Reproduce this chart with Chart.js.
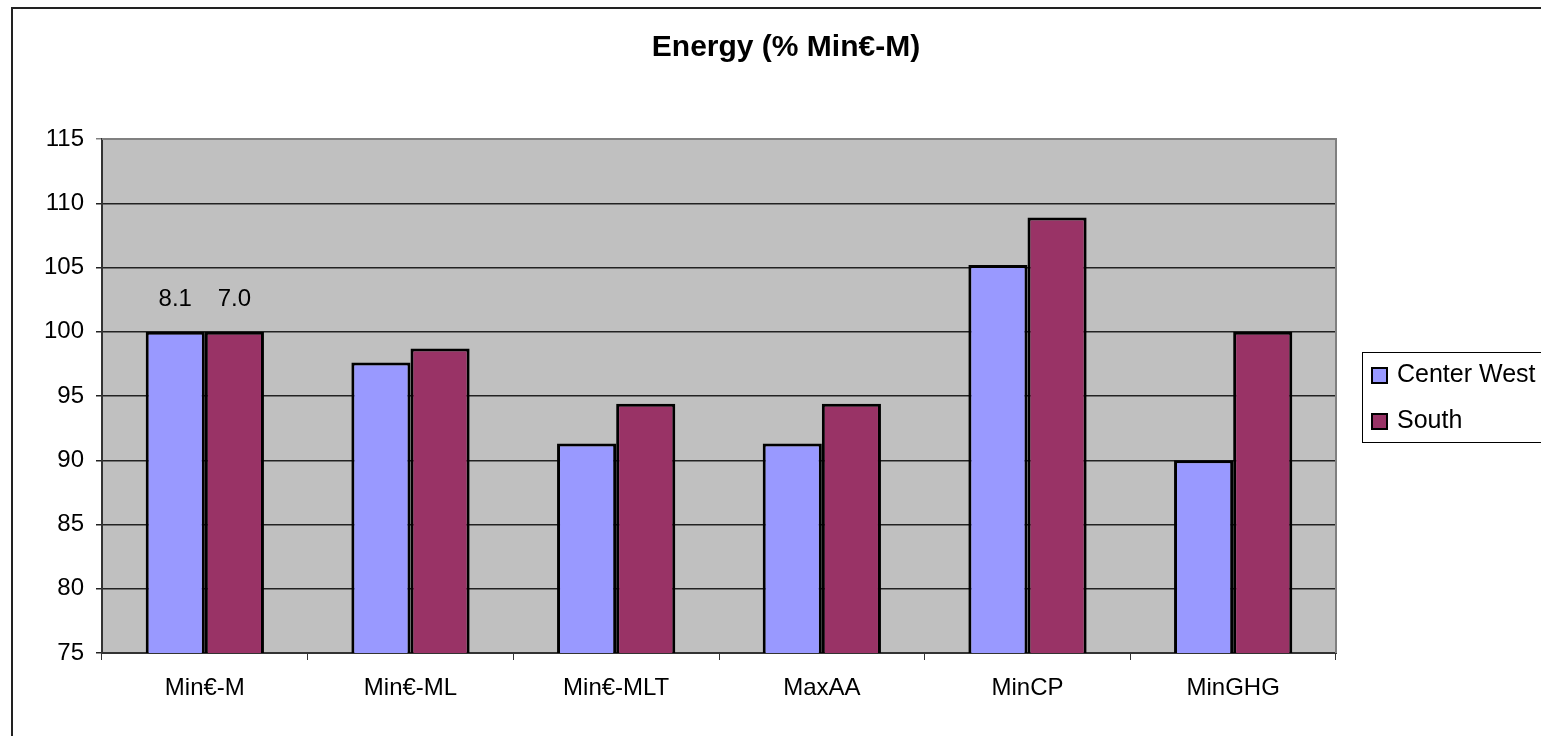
<!DOCTYPE html>
<html>
<head>
<meta charset="utf-8">
<style>
  html, body { margin: 0; padding: 0; background: #fff; }
  canvas { display: block; }
</style>
<script src="https://cdn.jsdelivr.net/npm/chart.js@4.4.1/dist/chart.umd.min.js"></script>
</head>
<body>
<canvas id="myChart" width="1541" height="736"></canvas>
<script>
// chart data
var chartTitle = 'Energy (% Min€-M)';
var categories = ['Min€-M', 'Min€-ML', 'Min€-MLT', 'MaxAA', 'MinCP', 'MinGHG'];
var centerWest = [100, 97.6, 91.3, 91.3, 105.2, 90.0];
var south = [100, 98.7, 94.4, 94.4, 108.9, 100];
var centerWestLabels = ['8.1', '', '', '', '', ''];
var southLabels = ['7.0', '', '', '', '', ''];
var yTicks = { min: 75, max: 115, step: 5 };

var FONT = '"Liberation Sans", Arial, sans-serif';

var excelLook = {
    id: 'excelLook',
    beforeDraw: function (chart) {
        var c = chart.ctx, a = chart.chartArea;
        c.save();
        c.fillStyle = '#fff';
        c.fillRect(0, 0, chart.width, chart.height);
        // outer frame (only top and left are visible)
        c.strokeStyle = '#222';
        c.lineWidth = 2;
        c.beginPath();
        c.moveTo(12, chart.height);
        c.lineTo(12, 8);
        c.lineTo(chart.width, 8);
        c.stroke();
        // plot area
        c.fillStyle = '#C0C0C0';
        c.fillRect(a.left, a.top, a.right - a.left, a.bottom - a.top);
        c.restore();
    },
    afterDraw: function (chart) {
        var c = chart.ctx, a = chart.chartArea;
        c.save();
        // plot border top/right
        c.strokeStyle = '#808080';
        c.lineWidth = 2;
        c.beginPath();
        c.moveTo(a.left, a.top);
        c.lineTo(a.right, a.top);
        c.lineTo(a.right, a.bottom);
        c.stroke();

        // title
        c.fillStyle = '#000';
        c.font = 'bold 30px ' + FONT;
        c.textAlign = 'center';
        c.textBaseline = 'middle';
        c.fillText(chartTitle, 786, 48);

        // value labels
        c.font = '24px ' + FONT;
        c.textBaseline = 'middle';
        var labelSets = [centerWestLabels, southLabels];
        labelSets.forEach(function (labels, di) {
            var meta = chart.getDatasetMeta(di);
            meta.data.forEach(function (bar, i) {
                if (labels[i]) {
                    c.fillText(labels[i], bar.x, bar.y - 32);
                }
            });
        });

        // legend
        var lx = 1362, ly = 352;
        c.strokeStyle = '#000';
        c.lineWidth = 1;
        c.strokeRect(lx + 0.5, ly + 0.5, 300, 90);
        c.textAlign = 'left';
        c.font = '25px ' + FONT;
        chart.data.datasets.forEach(function (ds, i) {
            var cy = 375 + i * 46;
            c.fillStyle = ds.backgroundColor;
            c.fillRect(1372, cy - 7, 15, 15);
            c.strokeStyle = '#000';
            c.lineWidth = 2;
            c.strokeRect(1372, cy - 7, 15, 15);
            c.fillStyle = '#000';
            c.fillText(ds.label, 1397, cy);
        });
        c.restore();
    }
};

var ctx = document.getElementById('myChart').getContext('2d');
var myChart = new Chart(ctx, {
    type: 'bar',
    data: {
        labels: categories,
        datasets: [{
            label: 'Center West',
            data: centerWest,
            backgroundColor: '#9999FF',
            borderColor: '#000',
            borderWidth: 3,
            borderSkipped: false,
            categoryPercentage: 0.575,
            barPercentage: 1.0
        }, {
            label: 'South',
            data: south,
            backgroundColor: '#993366',
            borderColor: '#000',
            borderWidth: 3,
            borderSkipped: false,
            categoryPercentage: 0.575,
            barPercentage: 1.0
        }]
    },
    options: {
        responsive: false,
        animation: false,
        layout: { padding: { left: 0, top: 139, right: 205, bottom: 0 } },
        plugins: {
            legend: { display: false },
            title: { display: false },
            tooltip: { enabled: false }
        },
        scales: {
            x: {
                grid: {
                    offset: true,
                    drawOnChartArea: false,
                    drawTicks: true,
                    tickLength: 7,
                    color: '#333'
                },
                border: { color: '#333', width: 2 },
                ticks: {
                    color: '#000',
                    font: { family: FONT, size: 24 },
                    padding: 14
                },
                afterFit: function (scale) { scale.height = 83; }
            },
            y: {
                min: yTicks.min,
                max: yTicks.max,
                ticks: {
                    stepSize: yTicks.step,
                    color: '#000',
                    font: { family: FONT, size: 24 },
                    padding: 12
                },
                grid: {
                    color: function (c) { return c.tick && c.tick.value === yTicks.max ? '#808080' : '#222'; },
                    lineWidth: 1.5,
                    tickLength: 6
                },
                border: { color: '#333', width: 2 },
                afterFit: function (scale) { scale.width = 102; }
            }
        }
    },
    plugins: [excelLook]
});
</script>
</body>
</html>
